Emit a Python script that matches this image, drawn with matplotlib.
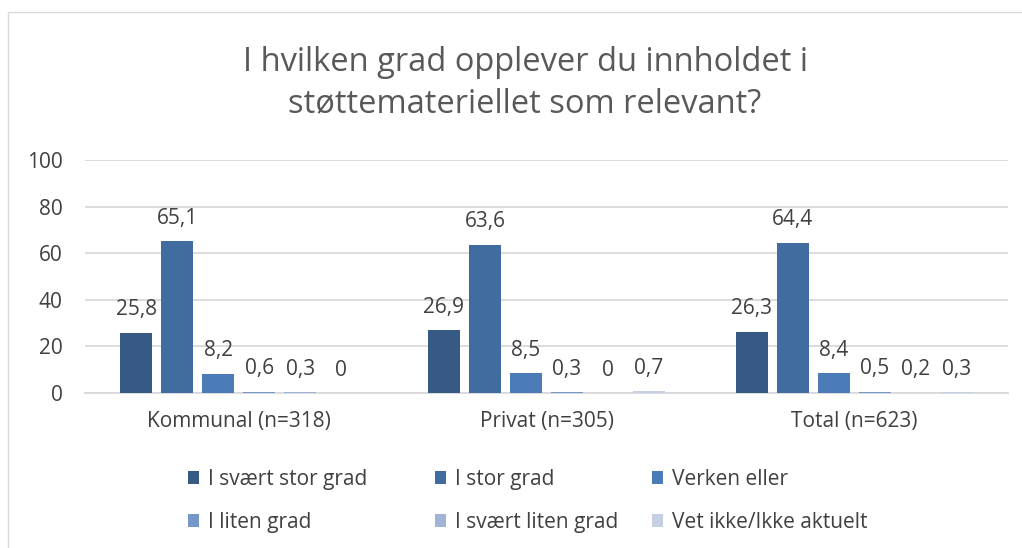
import matplotlib
matplotlib.use("Agg")
import matplotlib.pyplot as plt
import numpy as np
from matplotlib.patches import Rectangle

categories = ["Kommunal (n=318)", "Privat (n=305)", "Total (n=623)"]
series_names = ["I svært stor grad", "I stor grad", "Verken eller",
                "I liten grad", "I svært liten grad", "Vet ikke/Ikke aktuelt"]
svaert_stor = [25.8, 26.9, 26.3]
stor = [65.1, 63.6, 64.4]
verken = [8.2, 8.5, 8.4]
liten = [0.6, 0.3, 0.5]
svaert_liten = [0.3, 0.0, 0.2]
vet_ikke = [0.0, 0.7, 0.3]
series_values = [svaert_stor, stor, verken, liten, svaert_liten, vet_ikke]
yticks = [0, 20, 40, 60, 80, 100]
colors = ["#375A85", "#416C9F", "#4A7BB7", "#7597C8", "#A0B4D6", "#C5D0E5"]

plt.rcParams['font.family'] = ['Open Sans', 'DejaVu Sans']
text_color = "#404040"
FS = 15

fig = plt.figure(figsize=(10.22, 5.48), dpi=100)
ax = fig.add_axes([85 / 1022, 1 - 393 / 548, 923 / 1022, 233 / 548])

x = np.arange(len(categories))
n = len(series_names)
group_w = 0.80
bw = group_w / n
handles = []
for i, (name, vals, c) in enumerate(zip(series_names, series_values, colors)):
    pos = x - group_w / 2 + bw * (i + 0.5)
    b = ax.bar(pos, vals, width=bw * 0.78, color=c, label=name, zorder=3)
    handles.append(b)
    for p, v in zip(pos, vals):
        lab = ("%g" % v).replace(".", ",")
        ax.annotate(lab, (p, v), xytext=(0, 9), textcoords="offset points",
                    ha="center", va="bottom", fontsize=FS, color=text_color)

ax.set_ylim(0, 100)
ax.set_xlim(-0.5, len(categories) - 0.5)
ax.set_yticks(yticks)
ax.set_yticklabels([str(t) for t in yticks], fontsize=FS, color=text_color)
ax.set_xticks(x)
ax.set_xticklabels(categories, fontsize=FS, color=text_color)
ax.tick_params(length=0)
ax.tick_params(axis='x', pad=13)
ax.tick_params(axis='y', pad=16)
ax.grid(axis='y', color="#D9D9D9", linewidth=1.3, zorder=0)
for s in ["top", "right", "left"]:
    ax.spines[s].set_visible(False)
ax.spines["bottom"].set_color("#D9D9D9")
ax.spines["bottom"].set_linewidth(1.3)

fig.text(525 / 1022, 1 - 83 / 548, "I hvilken grad opplever du innholdet i\nstøttemateriellet som relevant?",
         ha="center", va="center", fontsize=23.5, color="#595959", linespacing=1.3)

col_x = [188, 435, 652]
for j, cx in enumerate(col_x):
    idx = [j, j + 3]
    leg = fig.legend([handles[i] for i in idx], [series_names[i] for i in idx],
                     loc="center left", bbox_to_anchor=(cx / 1022, 1 - 501 / 548),
                     frameon=False, fontsize=FS, handlelength=0.55, handleheight=0.55,
                     handletextpad=0.4, labelspacing=1.05, borderpad=0, borderaxespad=0)
    for t in leg.get_texts():
        t.set_color(text_color)

fig.patches.append(Rectangle((8 / 1022, -0.01), 1.0, 1 - 12 / 548 + 0.01,
                             transform=fig.transFigure, fill=False,
                             edgecolor="#D9D9D9", linewidth=1.0))

fig.savefig("out.png", dpi=100)
